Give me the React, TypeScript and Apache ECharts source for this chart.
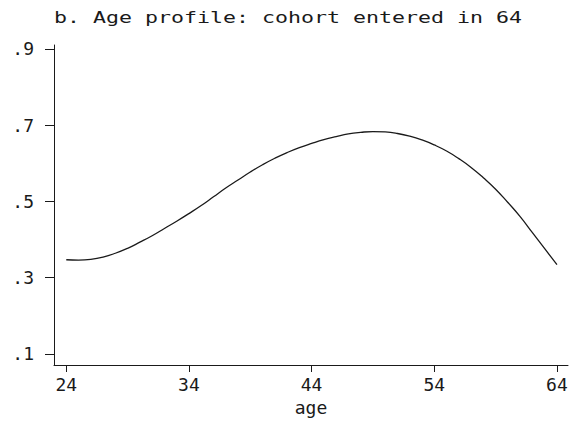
import React, { useEffect, useRef } from "react";
import * as echarts from "echarts";

const titleText = "b. Age profile: cohort entered in 64";
const xName = "age";
const ages = [24,25,26,27,28,29,30,31,32,33,34,35,36,37,38,39,40,41,42,43,44,45,46,47,48,49,50,51,52,53,54,55,56,57,58,59,60,61,62,63,64];
const profile = [0.347,0.346,0.348,0.354,0.364,0.377,0.393,0.410,0.429,0.448,0.468,0.489,0.512,0.535,0.556,0.577,0.596,0.613,0.628,0.641,0.652,0.662,0.670,0.677,0.681,0.683,0.682,0.678,0.671,0.661,0.648,0.632,0.612,0.589,0.562,0.532,0.497,0.460,0.418,0.376,0.334];
const xTicks = [24, 34, 44, 54, 64];
const yTicks = [0.1, 0.3, 0.5, 0.7, 0.9];

const FONT = "'DejaVu Sans Mono', monospace";
const INK = "#1a1a1a";

export default function App() {
  const ref = useRef<HTMLDivElement>(null);
  useEffect(() => {
    document.body.style.margin = "0";
    if (!ref.current) return;
    const chart = echarts.init(ref.current, undefined, { renderer: "svg" });
    chart.setOption({
      animation: false,
      backgroundColor: "#ffffff",
      grid: { left: 54, right: 15, top: 45, bottom: 56 },
      graphic: [
        {
          type: "text",
          x: 54,
          y: 17,
          scaleX: 1.35,
          style: {
            text: titleText,
            font: `16px ${FONT}`,
            fill: INK,
            textAlign: "left",
            textVerticalAlign: "middle",
          },
        },
      ],
      xAxis: {
        type: "value",
        min: 23,
        max: 64.9,
        name: xName,
        nameLocation: "middle",
        nameGap: 33,
        nameTextStyle: { fontFamily: FONT, fontSize: 18, color: INK },
        axisLine: { show: true, lineStyle: { color: INK, width: 1 } },
        axisTick: { show: true, inside: false, length: 7, customValues: xTicks, lineStyle: { color: INK } },
        axisLabel: {
          customValues: xTicks,
          margin: 10,
          fontFamily: FONT,
          fontSize: 18,
          color: INK,
          formatter: (v: number) => String(v),
        },
        splitLine: { show: false },
      },
      yAxis: {
        type: "value",
        min: 0.071,
        max: 0.91,
        axisLine: { show: true, lineStyle: { color: INK, width: 1 } },
        axisTick: { show: true, inside: false, length: 9, customValues: yTicks, lineStyle: { color: INK } },
        axisLabel: {
          customValues: yTicks,
          margin: 20,
          fontFamily: FONT,
          fontSize: 18,
          color: INK,
          formatter: (v: number) => v.toFixed(1).replace(/^0/, ""),
        },
        splitLine: { show: false },
      },
      series: [
        {
          type: "line",
          data: ages.map((a, i) => [a, profile[i]]),
          smooth: true,
          showSymbol: false,
          lineStyle: { color: INK, width: 1.3 },
        },
      ],
    });
    return () => chart.dispose();
  }, []);
  return <div ref={ref} style={{ width: 583, height: 421 }} />;
}
